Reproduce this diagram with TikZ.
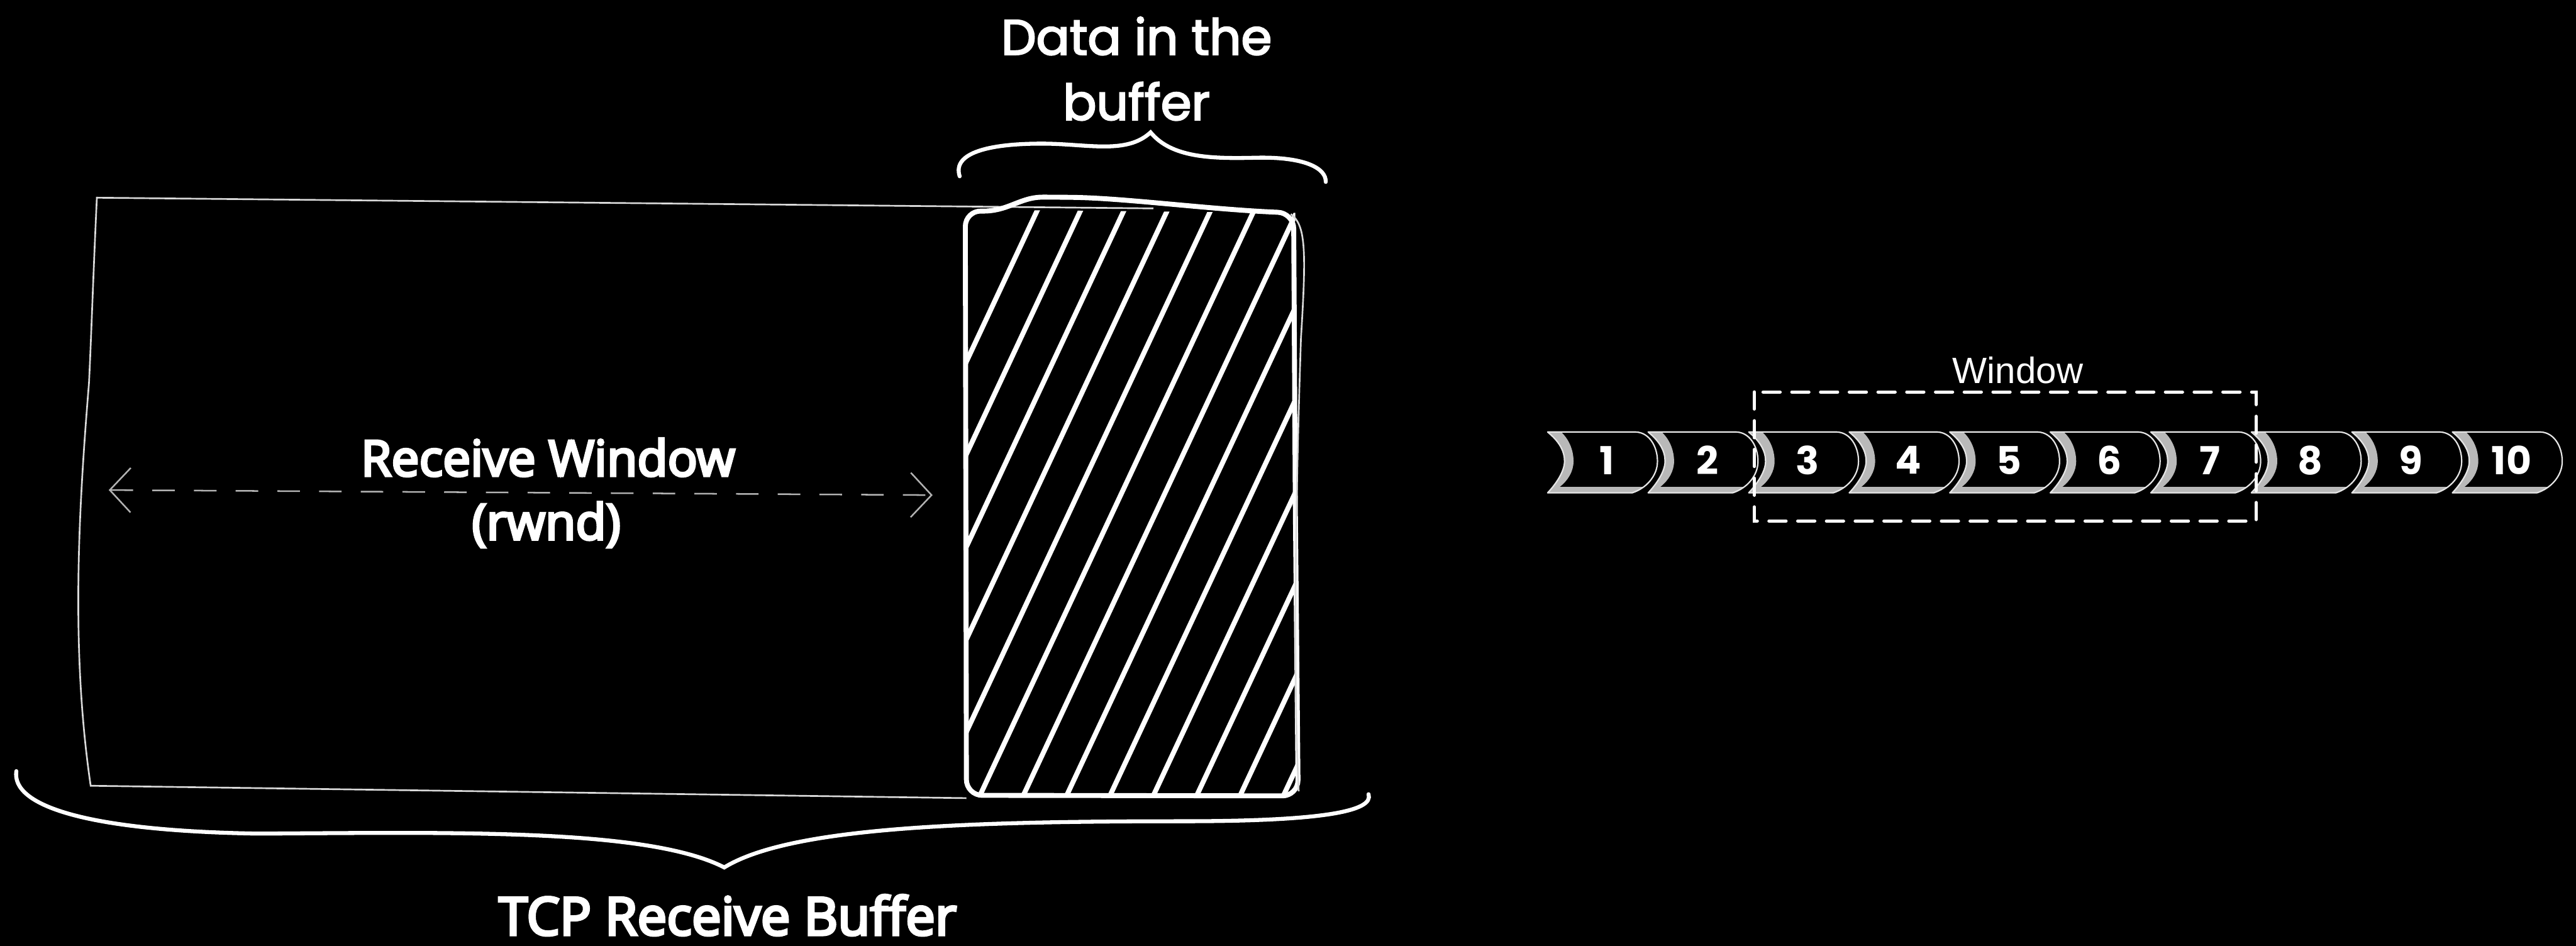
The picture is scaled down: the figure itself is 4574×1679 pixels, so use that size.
\documentclass[tikz,border=0pt]{standalone}
\usepackage{fontspec}
\setmainfont{Open Sans}
\newfontfamily\semifont{Open Sans}[FakeBold=5]
\newfontfamily\roundfont{Poppins}
\newfontfamily\roundmed{Poppins}[FakeBold=3]
\newfontfamily\arialfont{Liberation Sans}
\usetikzlibrary{arrows.meta}

\tikzset{
  thinline/.style = {draw=white!85!black, line width=0.85pt},
  thickline/.style = {draw=white, line width=2.5pt, line join=round, line cap=round},
  hatchline/.style = {draw=white, line width=2.5pt, line cap=round},
  bracepath/.style = {draw=white, line width=2pt, line cap=round},
  rwarrow/.style = {draw=gray!60!white, line width=0.8pt, dash pattern=on 0.4cm off 0.34cm,
    {Straight Barb[length=0.37cm, width=0.79cm]}-{Straight Barb[length=0.37cm, width=0.79cm]}},
  winbox/.style = {draw=white, line width=1.7pt, line cap=round, dash pattern=on 0.3cm off 0.21cm},
  txt/.style = {text=white, inner sep=0pt},
  band/.style = {fill=gray!55},
  chevline/.style = {draw=white!90!black, line width=0.7pt, line join=round},
  chevpath/.style = {insert path={(0,0) .. controls (22,18) and (30,35) .. (30,52)
    .. controls (30,70) and (15,92) .. (0,108) -- (150,108)
    .. controls (175,100) and (195,78) .. (195,52)
    .. controls (195,25) and (180,1) .. (157,0) -- cycle}},
  chev/.pic = {
    \begin{scope}
      \clip[chevpath];
      \fill[black] (-10,-10) rectangle (210,120);
      \fill[band] (-5,0) -- (24,0) .. controls (40,15) and (46,35) .. (46,52)
        .. controls (46,70) and (36,86) .. (22,97) -- (-5,110) -- cycle;
      \fill[band] (-5,97) rectangle (210,115);
    \end{scope}
    \draw[chevline, chevpath];
    \node[txt, font=\roundfont\bfseries\fontsize{19.5}{22}\selectfont] (-num) at (105,50) {#1};
  }
}

\begin{document}
\begin{tikzpicture}[x=0.01cm, y=-0.01cm]
  \path[use as bounding box, fill=black] (0,0) rectangle (4574,1679);

  % receive buffer, empty part
  \draw[thinline] (2048,370) -- (172,351) .. controls (165,500) and (162,600) .. (158,680)
    .. controls (140,900) and (125,1150) .. (161,1395) -- (1716,1417);

  % data in the buffer
  \begin{scope}
    \clip (1714,372) -- (2300,378) -- (2305,1412) -- (1716,1412) -- cycle;
    \foreach \k in {0,...,12}
      \draw[hatchline] ({1342+77*\k},1440) -- ++(530,-1131);
  \end{scope}
  \draw[thickline, rounded corners=8] (1714,374) .. controls (1790,376) and (1810,350) .. (1880,350)
    .. controls (2000,352) and (2150,372) .. (2297,378) -- (2300,900) -- (2305,1413) -- (1716,1412) -- cycle;
  \draw[thinline] (2292,380) .. controls (2318,400) and (2320,440) .. (2310,600)
    .. controls (2300,900) and (2296,1200) .. (2306,1405);

  % receive window arrow
  \coordinate (rw-l) at (193,870);
  \coordinate (rw-r) at (1656,879);
  \draw[rwarrow] (rw-l) -- (rw-r);
  \node[txt, anchor=base, font=\semifont\fontsize{25}{30}\selectfont] (rwin) at (973,845) {Receive Window};
  \node[txt, anchor=base, font=\semifont\fontsize{25}{30}\selectfont] (rwnd) at (970,958) {(rwnd)};

  % braces
  \draw[bracepath] (1704,313) .. controls (1690,270) and (1760,255) .. (1850,255)
    .. controls (1930,255) and (2000,275) .. (2043,235)
    .. controls (2080,280) and (2150,282) .. (2230,280)
    .. controls (2320,278) and (2355,300) .. (2354,323);
  \draw[bracepath] (29,1369) .. controls (20,1430) and (150,1475) .. (459,1480)
    .. controls (800,1478) and (1150,1470) .. (1286,1540)
    .. controls (1400,1470) and (1700,1458) .. (2100,1458)
    .. controls (2350,1458) and (2440,1440) .. (2430,1410);
  \node[txt, anchor=base, font=\roundmed\fontsize{25}{30}\selectfont] (data1) at (2018,97) {Data in the};
  \node[txt, anchor=base, font=\roundmed\fontsize{25}{30}\selectfont] (data2) at (2018,213) {buffer};
  \node[txt, anchor=base, font=\semifont\fontsize{26.5}{32}\selectfont] (tcp) at (1292,1660) {TCP Receive Buffer};

  % segments and sliding window
  \foreach \i in {1,...,10}
    \pic (seg\i) at ({2748+178.5*(\i-1)},767) {chev=\i};
  \draw[winbox] (3115,696) rectangle (4006,925);
  \node[txt, anchor=base, font=\arialfont\fontsize{18.5}{22}\selectfont] (win) at (3583,681) {Window};
\end{tikzpicture}
\end{document}
